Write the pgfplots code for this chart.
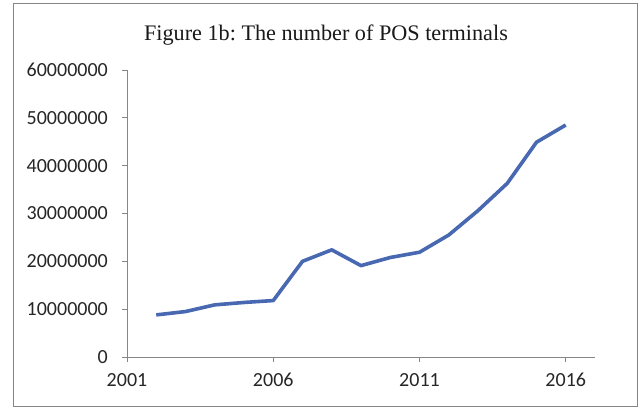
\documentclass[border=0pt]{standalone}
\usepackage{pgfplots}
\pgfplotsset{compat=1.18}
\usepackage{fontspec}
\setmainfont{Carlito}
\newfontfamily\titlefont{Liberation Serif}
\definecolor{linecol}{RGB}{72,104,178}
\definecolor{axcol}{RGB}{134,134,134}
\frenchspacing
\begin{document}
\begin{tikzpicture}[x=1pt,y=1pt]
\path[use as bounding box] (-127,-52) rectangle (514,357);
\draw[axcol, line width=1pt] (-113.5,-50) rectangle (510,353);
\begin{axis}[
  at={(0,0)}, anchor=origin,
  scale only axis, width=468pt, height=287pt,
  xmin=2001, xmax=2017, ymin=0, ymax=60000000,
  axis x line*=bottom, axis y line*=left,
  axis line style={axcol, line width=0.9pt},
  tick style={axcol, line width=0.9pt},
  tick align=outside, major tick length=5pt,
  xtick={2001,2006,2011,2016},
  xticklabels={2001,2006,2011,2016},
  ytick={0,10000000,20000000,30000000,40000000,50000000,60000000},
  yticklabels={0,10000000,20000000,30000000,40000000,50000000,60000000},
  scaled y ticks=false, scaled x ticks=false,
  ticklabel style={font=\fontsize{20}{22}\selectfont, text=black!85},
  yticklabel style={anchor=east, inner sep=0pt, xshift=-14pt},
  xticklabel style={anchor=north, inner sep=0pt, yshift=-11pt},
  clip=false,
]
\addplot[linecol, line width=3.6pt, line join=round] coordinates {
(2002,8800000) (2003,9500000) (2004,10900000) (2005,11400000) (2006,11800000)
(2007,20000000) (2008,22400000) (2009,19100000) (2010,20800000) (2011,21900000)
(2012,25500000) (2013,30600000) (2014,36300000) (2015,44900000) (2016,48500000)
};
\end{axis}
\node[font=\titlefont\fontsize{22.2}{24}\selectfont, text=black!90] at (199,322) {Figure 1b: The number of POS terminals};
\end{tikzpicture}
\end{document}
